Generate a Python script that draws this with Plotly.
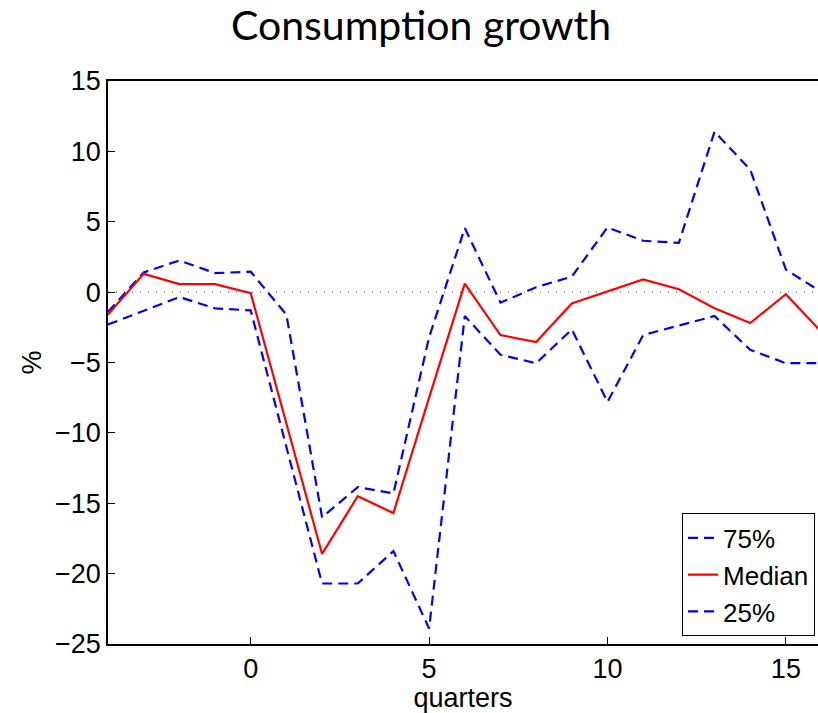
import plotly.graph_objects as go

# Quarters relative to the shock
quarters = list(range(-4, 17))

# Consumption growth (%) across the distribution
p75 = [-1.4, 1.4, 2.25, 1.35, 1.45, -1.6, -16.0, -13.85, -14.3, -3.2, 4.55,
       -0.75, 0.35, 1.1, 4.6, 3.65, 3.5, 11.4, 8.7, 1.6, 0.0]
median = [-1.6, 1.3, 0.57, 0.57, -0.07, -9.3, -18.6, -14.5, -15.7, -7.5, 0.6,
          -3.05, -3.55, -0.8, 0.05, 0.9, 0.2, -1.15, -2.2, -0.15, -2.85]
p25 = [-2.3, -1.3, -0.35, -1.15, -1.3, -11.0, -20.7, -20.7, -18.4, -23.9, -1.7,
       -4.45, -5.05, -2.65, -7.8, -3.05, -2.4, -1.7, -4.1, -5.05, -5.05]

x_ticks = [0, 5, 10, 15]
y_ticks = [-25, -20, -15, -10, -5, 0, 5, 10, 15]

FONT = "Liberation Sans"
BLUE = "#0000ff"
RED = "#ff0000"

fig = go.Figure()
fig.add_trace(go.Scatter(x=quarters, y=p75, mode="lines", name="75%",
                         line=dict(color=BLUE, width=2.2, dash="10px,6px")))
fig.add_trace(go.Scatter(x=quarters, y=median, mode="lines", name="Median",
                         line=dict(color=RED, width=2.2)))
fig.add_trace(go.Scatter(x=quarters, y=p25, mode="lines", name="25%",
                         line=dict(color=BLUE, width=2.2, dash="10px,6px")))

# dotted zero reference line
fig.add_hline(y=0, line=dict(color="#444444", width=1, dash="1px,7px"), layer="below")

axis_common = dict(
    showgrid=False, zeroline=False,
    showline=True, linecolor="black", linewidth=1.5,
    ticks="inside", ticklen=7, tickwidth=1, tickcolor="black",
    tickfont=dict(family=FONT, size=27, color="black"),
)

fig.update_layout(
    width=818, height=713,
    margin=dict(l=108, r=0, t=81, b=69),
    paper_bgcolor="white", plot_bgcolor="white",
    title=dict(text="Consumption growth", x=421 / 818, xanchor="center", xref="container",
               y=1 - 26 / 713, yanchor="middle", yref="container",
               font=dict(family="Lato", size=41, color="black")),
    xaxis=dict(range=[-4, 15.9], tickvals=x_ticks, mirror=True,
               title=dict(text="quarters", standoff=2,
                          font=dict(family=FONT, size=27, color="black")),
               **axis_common),
    yaxis=dict(range=[-25, 15], tickvals=y_ticks, mirror=False,
               title=dict(text="%", standoff=6,
                          font=dict(family=FONT, size=27, color="black")),
               **axis_common),
    showlegend=True,
    legend=dict(x=0.9958, xanchor="right", y=0.0135, yanchor="bottom",
                bgcolor="white", bordercolor="black", borderwidth=1,
                font=dict(family=FONT, size=26, color="black"),
                tracegroupgap=0, itemwidth=30),
)

fig.write_html("out.html")
